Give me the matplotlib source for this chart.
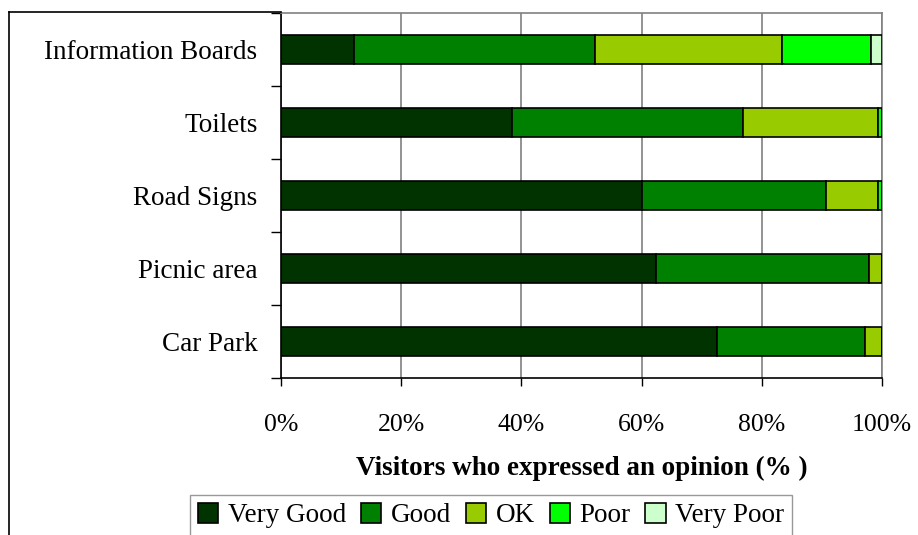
import numpy as np
import matplotlib
matplotlib.use("Agg")
import matplotlib.pyplot as plt
from matplotlib.patches import Patch
from matplotlib.lines import Line2D

plt.rcParams["font.family"] = ["Liberation Serif", "DejaVu Serif"]

categories = ["Information Boards", "Toilets", "Road Signs", "Picnic area", "Car Park"]
ratings = ["Very Good", "Good", "OK", "Poor", "Very Poor"]
very_good = [12.2, 38.5, 60.1, 62.4, 72.6]
good = [40.0, 38.4, 30.5, 35.4, 24.5]
ok = [31.2, 22.4, 8.7, 2.2, 2.9]
poor = [14.8, 0.7, 0.7, 0.0, 0.0]
very_poor = [1.8, 0.0, 0.0, 0.0, 0.0]
colors = ["#003300", "#008000", "#99CC00", "#00FF00", "#CCFFCC"]

series = [very_good, good, ok, poor, very_poor]

fig = plt.figure(figsize=(9.18, 5.35), dpi=100)
ax = fig.add_axes([281 / 918, 1 - 378 / 535, 601 / 918, 365 / 535])

y = np.arange(len(categories))
left = np.zeros(len(categories))
for vals, col, name in zip(series, colors, ratings):
    v = np.array(vals)
    ax.barh(y, v, left=left, height=0.4, color=col, edgecolor="black",
            linewidth=1.2, label=name, zorder=3)
    left += v

ax.set_xlim(0, 100)
ax.set_ylim(len(categories) - 0.5, -0.5)
ax.set_xticks(np.arange(0, 101, 20))
ax.set_xticklabels([f"{t}%" for t in range(0, 101, 20)], fontsize=18.5)
ax.tick_params(axis="x", direction="out", length=6, width=1, pad=20, color="black")
ax.xaxis.grid(True, color="#808080", linewidth=1.2, zorder=0)

# category labels between boundary ticks
ax.set_yticks(np.arange(-0.5, len(categories), 1.0))
ax.set_yticklabels([])
ax.tick_params(axis="y", which="major", direction="out", length=7, width=1)
ax.set_yticks(y, minor=True)
ax.set_yticklabels(categories, minor=True, fontsize=19.5)
ax.tick_params(axis="y", which="minor", length=0, pad=17)

ax.set_xlabel("Visitors who expressed an opinion (% )", fontsize=19.5,
              fontweight="bold", labelpad=14)

for s in ["top", "right"]:
    ax.spines[s].set_color("#808080")
    ax.spines[s].set_linewidth(1.2)
for s in ["left", "bottom"]:
    ax.spines[s].set_color("black")
    ax.spines[s].set_linewidth(1.2)

# outer chart frame (left and top edges)
fig.add_artist(Line2D([9 / 918, 9 / 918], [0, 1 - 12 / 535], color="black", lw=1.2))
fig.add_artist(Line2D([9 / 918, 281 / 918], [1 - 12 / 535, 1 - 12 / 535], color="black", lw=1.2))

handles = [Patch(facecolor=c, edgecolor="black", linewidth=1.2) for c in colors]
leg = fig.legend(handles, ratings, loc="upper center", bbox_to_anchor=(491 / 918, 1 - 495 / 535),
                 ncol=5, fontsize=19.5, frameon=True, fancybox=False, handlelength=0.75,
                 handleheight=0.75, handletextpad=0.35, columnspacing=0.55,
                 borderpad=0.3, borderaxespad=0)
leg.get_frame().set_edgecolor("#808080")
leg.get_frame().set_linewidth(1.0)

fig.savefig("out.png", dpi=100)
